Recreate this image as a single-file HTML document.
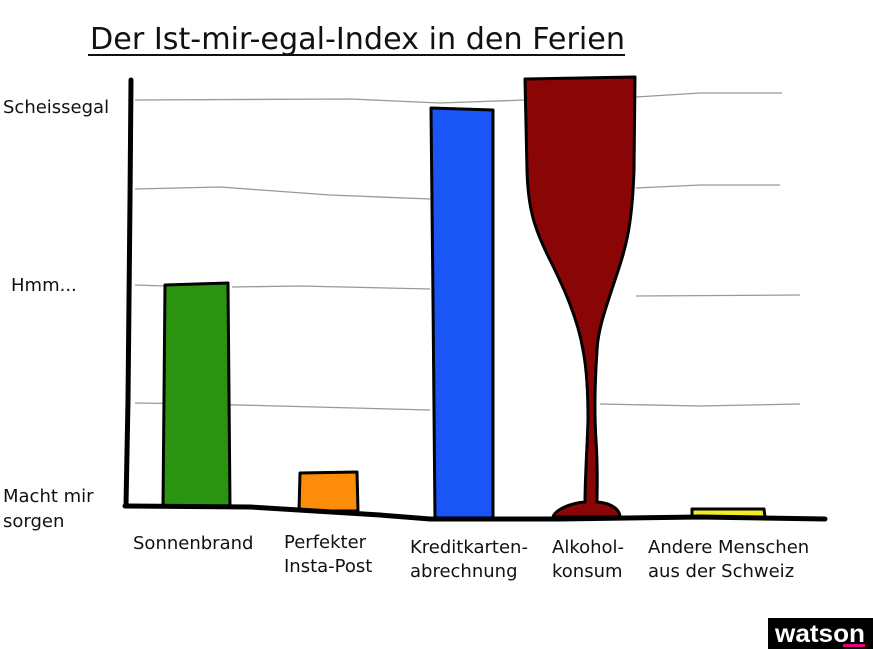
<!DOCTYPE html>
<html><head><meta charset="utf-8"><style>
html,body{margin:0;padding:0;background:#fff}
svg{display:block}
text{font-family:"DejaVu Sans","Liberation Sans",sans-serif;fill:#111}
</style></head><body>
<svg width="873" height="649" viewBox="0 0 873 649" xmlns="http://www.w3.org/2000/svg">
<rect width="873" height="649" fill="#fff"/>
<text x="90" y="49" font-size="30" textLength="535" lengthAdjust="spacingAndGlyphs">Der Ist-mir-egal-Index in den Ferien</text>
<line x1="88" y1="55" x2="625" y2="55" stroke="#111" stroke-width="2"/>
<g fill="none" stroke="#999" stroke-width="1.3">
<path d="M135 100 L350 99 L440 103 L525 100 M636 97 L700 93 L782 93"/>
<path d="M135 189 L220 187 L330 195 L430 199 M636 188 L700 185 L780 185"/>
<path d="M135 285 L165 286 M232 287 L300 286 L430 289 M636 296 L800 295"/>
<path d="M135 403 L200 404 L430 410 M600 404 L700 406 L800 404"/>
</g>
<g stroke="#000" stroke-width="3" stroke-linejoin="round">
<path d="M165 285 L228 283 L230 507 L163 507 Z" fill="#2a9310"/>
<path d="M300 473 L357 472 L358 511 L299 511 Z" fill="#fc8c0a"/>
<path d="M431 108 L493 110 L493 520 L435 520 L433 300 Z" fill="#1a55f5"/>
<path d="M525 79 L635 77 L634 170 C632 230 625 250 615 280 C605 310 598 330 597 350 C595 380 594 410 596 440 C598 470 597 490 597 502 C612 503 620 510 620 517 L553 517 C555 510 570 503 585 502 C585 480 587 450 588 420 C588 390 586 365 583 350 C578 320 565 290 550 260 C535 230 528 210 527 170 Z" fill="#8a0505"/>
<path d="M692 509 L764 509 L765 517 L692 517 Z" fill="#f2ed22"/>
</g>
<path d="M131 80 L130 200 L128 400 L126 505" stroke="#000" stroke-width="5" fill="none" stroke-linecap="round"/>
<path d="M125 506 L250 507 L380 515 L430 519 L560 519 L700 517 L825 519" stroke="#000" stroke-width="5" fill="none" stroke-linecap="round"/>
<g font-size="18">
<text x="3" y="113">Scheissegal</text>
<text x="11" y="291">Hmm...</text>
<text x="3" y="502">Macht mir</text>
<text x="3" y="527">sorgen</text>
<text x="133" y="549">Sonnenbrand</text>
<text x="284" y="548">Perfekter</text>
<text x="284" y="572">Insta-Post</text>
<text x="410" y="553">Kreditkarten-</text>
<text x="410" y="577">abrechnung</text>
<text x="552" y="553">Alkohol-</text>
<text x="552" y="577">konsum</text>
<text x="648" y="553">Andere Menschen</text>
<text x="648" y="577">aus der Schweiz</text>
</g>
<rect x="768" y="618" width="105" height="31" fill="#000"/>
<text x="775" y="642" font-size="25" font-weight="bold" textLength="90" lengthAdjust="spacingAndGlyphs" style="fill:#fff;font-family:'Liberation Sans',sans-serif">watson</text>
<rect x="843" y="644" width="22" height="3" fill="#e5007d"/>
</svg>
</body></html>
